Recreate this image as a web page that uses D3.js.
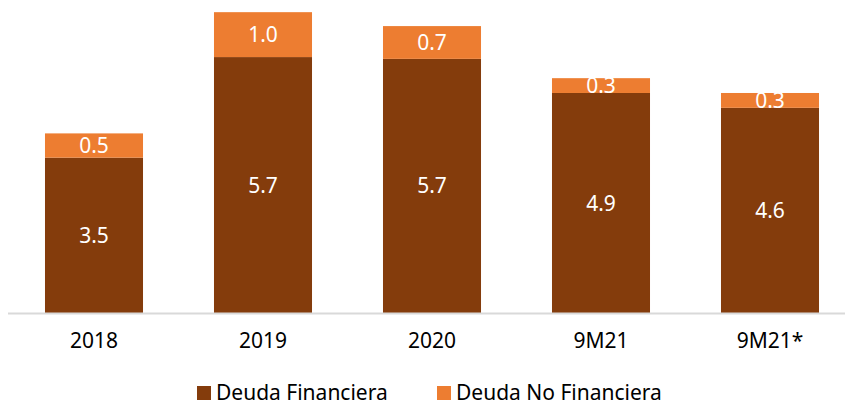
<!DOCTYPE html>
<html>
<head>
<meta charset="utf-8">
<script src="https://cdn.jsdelivr.net/npm/d3@7"></script>
<style>
  body { margin: 0; background: #fff; }
  text { font-family: 'Noto Sans', sans-serif; }
</style>
</head>
<body>
<div id="chart"></div>
<script>
const categories = ['2018', '2019', '2020', '9M21', '9M21*'];
const financiera = [3.46, 5.7, 5.66, 4.9, 4.57];
const noFinanciera = [0.54, 1.0, 0.73, 0.33, 0.33];
const seriesNames = ['Deuda Financiera', 'Deuda No Financiera'];
const colors = ['#843C0C', '#ED7D31'];

const width = 845;
const height = 406;
const baseY = 313;

const svg = d3.select('#chart').append('svg')
  .attr('width', width)
  .attr('height', height);

const rows = categories.map((c, i) => ({
  cat: c,
  'Deuda Financiera': financiera[i],
  'Deuda No Financiera': noFinanciera[i],
}));

const stacked = d3.stack().keys(seriesNames)(rows);

const x = d3.scaleBand()
  .domain(categories)
  .range([9.5, 854.5])
  .paddingInner(0.42)
  .paddingOuter(0.21);

const y = d3.scaleLinear()
  .domain([0, 7])
  .range([baseY, -1.3]);

const color = d3.scaleOrdinal().domain(seriesNames).range(colors);

// bars
const layer = svg.selectAll('.layer')
  .data(stacked)
  .enter().append('g')
  .attr('class', 'layer')
  .attr('fill', d => color(d.key));

layer.selectAll('rect')
  .data(d => d)
  .enter().append('rect')
  .attr('x', d => x(d.data.cat))
  .attr('y', d => y(d[1]))
  .attr('width', x.bandwidth())
  .attr('height', d => y(d[0]) - y(d[1]));

// value labels
layer.selectAll('text')
  .data(d => d)
  .enter().append('text')
  .attr('x', d => x(d.data.cat) + x.bandwidth() / 2)
  .attr('y', d => (y(d[0]) + y(d[1])) / 2)
  .attr('dy', '0.36em')
  .attr('text-anchor', 'middle')
  .attr('fill', '#fff')
  .style('font-size', '21px')
  .text(d => (d[1] - d[0]).toFixed(1));

// x axis
const xAxis = d3.axisBottom(x).tickSize(0).tickPadding(0);
const gx = svg.append('g')
  .attr('transform', `translate(0,${baseY})`)
  .call(xAxis);
gx.select('.domain').remove();
gx.selectAll('text')
  .attr('y', 35)
  .attr('dy', 0)
  .attr('fill', '#000')
  .style('font-size', '21px');

svg.append('line')
  .attr('x1', 8).attr('x2', width)
  .attr('y1', baseY + 0.5).attr('y2', baseY + 0.5)
  .attr('stroke', '#d9d9d9')
  .attr('stroke-width', 2);

// legend
const legendX = [197, 437];
const legend = svg.selectAll('.legend')
  .data(seriesNames)
  .enter().append('g')
  .attr('class', 'legend')
  .attr('transform', (d, i) => `translate(${legendX[i]},386)`);

legend.append('rect')
  .attr('width', 14)
  .attr('height', 14)
  .attr('fill', d => color(d));

legend.append('text')
  .attr('x', 19)
  .attr('y', 14)
  .style('font-size', '21px')
  .attr('fill', '#000')
  .text(d => d);
</script>
</body>
</html>
